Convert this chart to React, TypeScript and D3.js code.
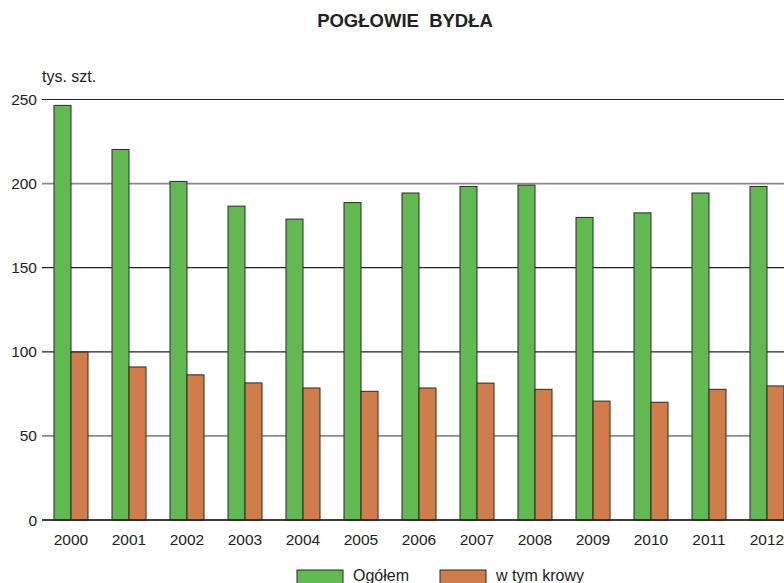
import React from "react";
import * as d3 from "d3";

const years = ["2000","2001","2002","2003","2004","2005","2006","2007","2008","2009","2010","2011","2012"];
const ogolem = [246.5, 220.3, 201.3, 186.6, 178.9, 188.7, 194.4, 198.3, 199.1, 179.9, 182.6, 194.4, 198.3];
const krowy = [99.8, 91.0, 86.3, 81.5, 78.5, 76.5, 78.5, 81.4, 77.7, 70.7, 70.0, 77.7, 79.7];
const yTicks = [0, 50, 100, 150, 200, 250];
const seriesNames = ["Ogółem", "w tym krowy"];
const seriesColors = ["#63b951", "#d07c4b"];
const gridColors: Record<number, string> = { 0: "#222", 50: "#8a8a8a", 100: "#222", 150: "#222", 200: "#8a8a8a", 250: "#222" };

const W = 784, H = 583;
const left = 42, top = 99.5, bottom = 520;

export default function App() {
  const x = d3.scaleBand<string>().domain(years).range([left, left + 58 * years.length]).paddingInner(0).paddingOuter(0);
  const y = d3.scaleLinear().domain([0, 250]).range([bottom, top]);
  const bw = 17;
  const font = "'Liberation Sans', Arial, sans-serif";
  return (
    <svg width={W} height={H} style={{ position: "absolute", left: 0, top: 0 }} fontFamily={font}>
      <rect width={W} height={H} fill="#fff" />
      <text x={405} y={27} textAnchor="middle" fontSize={18.5} fontWeight="bold" fill="#222" style={{ whiteSpace: "pre" }}>POGŁOWIE  BYDŁA</text>
      <text x={42} y={82} fontSize={16} fill="#222">tys. szt.</text>
      {yTicks.map(t => (
        <g key={t}>
          <line x1={left} x2={W} y1={y(t)} y2={y(t)} stroke={gridColors[t]} strokeWidth={gridColors[t] === "#222" ? 1.2 : 1.6} />
          <text x={37} y={y(t) + 5.5} textAnchor="end" fontSize={15.5} fill="#222">{t}</text>
        </g>
      ))}
      {years.map((yr, i) => {
        const c = (x(yr) as number) + x.bandwidth() / 2;
        return (
          <g key={yr}>
            <rect x={c - bw} y={y(ogolem[i])} width={bw} height={y(0) - y(ogolem[i])} fill={seriesColors[0]} stroke="#2a2a2a" strokeWidth={1} />
            <rect x={c} y={y(krowy[i])} width={bw} height={y(0) - y(krowy[i])} fill={seriesColors[1]} stroke="#2a2a2a" strokeWidth={1} />
            <text x={c} y={545} textAnchor="middle" fontSize={15.5} fill="#222">{yr}</text>
          </g>
        );
      })}
      <line x1={left} x2={W} y1={y(0)} y2={y(0)} stroke="#222" strokeWidth={1.5} />
      {seriesNames.map((n, i) => {
        const lx = [297, 440][i];
        return (
          <g key={n}>
            <rect x={lx} y={570} width={46} height={16} fill={seriesColors[i]} stroke="#2a2a2a" strokeWidth={1} />
            <text x={lx + 56} y={581} fontSize={16} fill="#222">{n}</text>
          </g>
        );
      })}
    </svg>
  );
}
